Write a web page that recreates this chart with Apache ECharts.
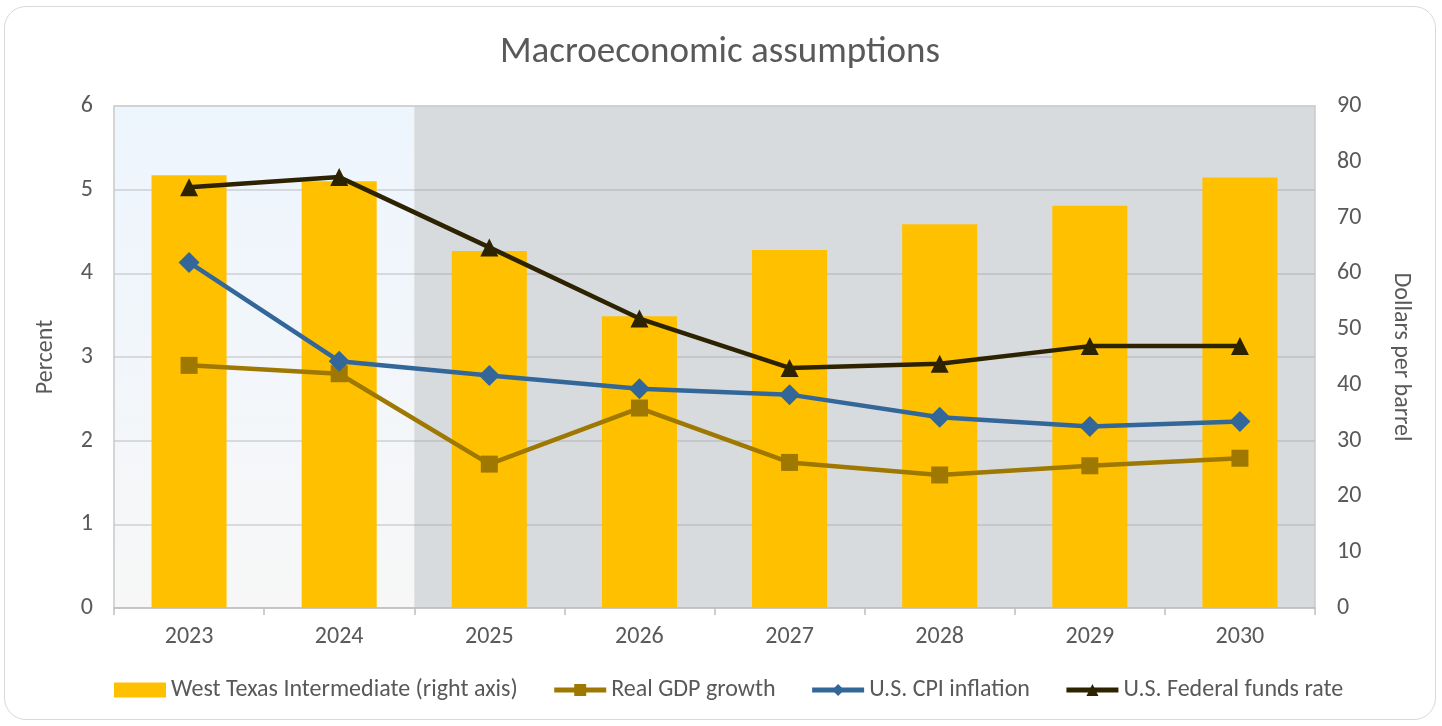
<!DOCTYPE html>
<html>
<head>
<meta charset="utf-8">
<script src="https://cdn.jsdelivr.net/npm/echarts@6/dist/echarts.min.js"></script>
<style>
  html, body { margin: 0; padding: 0; background: #fff; }
  #main {
    position: absolute; left: 4px; top: 6px;
    width: 1432px; height: 714px;
    border: 1.5px solid #d9d9d9; border-radius: 22px;
    box-sizing: border-box; overflow: hidden;
  }
</style>
</head>
<body>
<div id="main"></div>
<script>
// data
var years = ['2023', '2024', '2025', '2026', '2027', '2028', '2029', '2030'];
var wti = [77.6, 76.5, 64.0, 52.3, 64.2, 68.8, 72.1, 77.2];          // dollars per barrel
var gdp = [2.90, 2.80, 1.72, 2.39, 1.74, 1.59, 1.70, 1.79];          // percent
var cpi = [4.13, 2.95, 2.78, 2.62, 2.55, 2.28, 2.17, 2.23];          // percent
var fedFunds = [5.03, 5.15, 4.31, 3.46, 2.87, 2.92, 3.13, 3.13];     // percent
var leftTicks = { min: 0, max: 6, interval: 1 };
var rightTicks = { min: 0, max: 90, interval: 10 };
var firstProjection = years.indexOf('2025');   // history vs projection shading

var textColor = '#595959';
var font = 'Carlito, "Open Sans", "Noto Sans", sans-serif';

var chart = echarts.init(document.getElementById('main'));

function lineSeries(name, data, color, symbol, size) {
  return {
    name: name,
    type: 'line',
    data: data,
    yAxisIndex: 0,
    symbol: symbol,
    symbolSize: size,
    lineStyle: { color: color, width: 4.5 },
    itemStyle: { color: color },
    z: 3
  };
}

var option = {
  animation: false,
  textStyle: { fontFamily: font },
  title: {
    text: 'Macroeconomic assumptions',
    left: 'center',
    top: 22,
    textStyle: { fontFamily: font, fontSize: 37, fontWeight: 'normal', color: textColor }
  },
  grid: { left: 109, right: 120, top: 99, bottom: 111 },
  legend: {
    bottom: 12,
    left: 104,
    itemWidth: 52,
    itemHeight: 15,
    itemGap: 34,
    lineStyle: { width: 5 },
    textStyle: { fontFamily: font, fontSize: 24, color: textColor },
    data: [
      { name: 'West Texas Intermediate (right axis)', icon: 'rect' },
      'Real GDP growth', 'U.S. CPI inflation', 'U.S. Federal funds rate'
    ]
  },
  xAxis: [
    {
      type: 'category',
      data: years,
      axisLine: { lineStyle: { color: '#bfbfbf', width: 1.5 } },
      axisTick: { show: true, length: 7, lineStyle: { color: '#bfbfbf', width: 1.5 } },
      axisLabel: { fontFamily: font, fontSize: 24, color: textColor, margin: 17 }
    },
    {
      // hidden helper axis for the shaded background regions + top border
      type: 'value',
      position: 'top',
      min: 0,
      max: years.length,
      axisLine: { show: true, onZero: false, lineStyle: { color: '#d0d0d0', width: 1.5 } },
      axisTick: { show: false },
      axisLabel: { show: false },
      splitLine: { show: false }
    }
  ],
  yAxis: [
    {
      type: 'value',
      name: 'Percent',
      nameLocation: 'middle',
      nameGap: 56,
      nameRotate: 90,
      nameTextStyle: { fontFamily: font, fontSize: 24, color: textColor },
      min: leftTicks.min, max: leftTicks.max, interval: leftTicks.interval,
      axisLine: { show: true, lineStyle: { color: '#c8c8c8', width: 1.5 } },
      axisTick: { show: false },
      axisLabel: { fontFamily: font, fontSize: 24, color: textColor, margin: 21 },
      splitLine: { lineStyle: { color: 'rgba(150,150,150,0.4)', width: 1.5 } }
    },
    {
      type: 'value',
      name: 'Dollars per barrel',
      nameLocation: 'middle',
      nameGap: 74,
      nameRotate: -90,
      nameTextStyle: { fontFamily: font, fontSize: 24, color: textColor },
      min: rightTicks.min, max: rightTicks.max, interval: rightTicks.interval,
      axisLine: { show: true, lineStyle: { color: '#c8c8c8', width: 1.5 } },
      axisTick: { show: false },
      axisLabel: { fontFamily: font, fontSize: 24, color: textColor, margin: 22 },
      splitLine: { show: false }
    }
  ],
  series: [
    {
      name: 'background',
      type: 'line',
      xAxisIndex: 1,
      yAxisIndex: 0,
      data: [],
      silent: true,
      z: -1,
      markArea: {
        silent: true,
        z: -1,
        data: [
          [
            { xAxis: 0, itemStyle: { color: new echarts.graphic.LinearGradient(0, 0, 0, 1, [
              { offset: 0, color: '#edf5fd' },
              { offset: 1, color: '#f7f7f7' }
            ]) } },
            { xAxis: firstProjection }
          ],
          [
            { xAxis: firstProjection, itemStyle: { color: '#d8dbde' } },
            { xAxis: years.length }
          ]
        ]
      }
    },
    {
      name: 'West Texas Intermediate (right axis)',
      type: 'bar',
      data: wti,
      yAxisIndex: 1,
      barWidth: '50%',
      itemStyle: { color: '#ffc000' },
      z: 2
    },
    lineSeries('Real GDP growth', gdp, '#9e7800', 'rect', 17),
    lineSeries('U.S. CPI inflation', cpi, '#336699', 'diamond', 21),
    lineSeries('U.S. Federal funds rate', fedFunds, '#2e2300', 'triangle', 18)
  ]
};

chart.setOption(option);
</script>
</body>
</html>
